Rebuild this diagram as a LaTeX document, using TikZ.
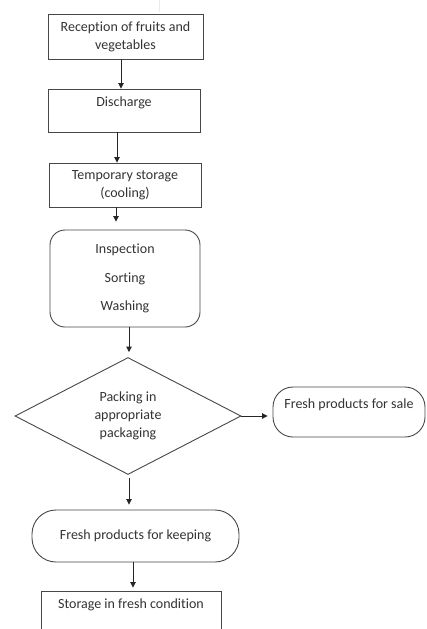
\documentclass[tikz,border=0pt]{standalone}
\usepackage{fontspec}
\setmainfont{Carlito}[RawFeature={-liga;-clig;-dlig;-calt;-rlig}]
\usetikzlibrary{shapes.geometric,arrows.meta}
\begin{document}
\begin{tikzpicture}[x=1pt,y=-1pt,
  box/.style={draw=black!72, line width=0.9pt, text=black!80,
    font=\fontsize{14pt}{18pt}\selectfont, align=center, inner sep=0pt},
  arr/.style={-{Triangle[length=5.5pt,width=5.5pt]}, draw=black!85, line width=0.9pt}]
\useasboundingbox (0,0) rectangle (426,629);
\clip (0,0) rectangle (426,629);
\fill[white] (0,0) rectangle (426,629);
\draw[black!8, line width=0.6pt] (159,0) -- (159,12);
\node[box, minimum width=155pt, minimum height=45pt] (b1) at (125.5,36.5) {Reception of fruits and\\vegetables};
\node[box, minimum width=152pt, minimum height=43pt] (b2) at (124,110.5) {Discharge\\[-6pt]\strut};
\node[box, minimum width=152pt, minimum height=44pt] (b3) at (125,185) {Temporary storage\\(cooling)};
\node[box, rounded corners=15pt, minimum width=150pt, minimum height=97pt] (b4) at (125,278.5) {Inspection\\[10.5pt]Sorting\\[10.5pt]Washing};
\node[box, diamond, minimum width=226pt, minimum height=117pt] (d) at (128,416) {Packing in\\appropriate\\packaging};
\node[box, rounded corners=20pt, minimum width=152pt, minimum height=50pt] (sale) at (349,412) {Fresh products for sale\\[-6pt]\strut};
\node[box, rounded corners=24pt, minimum width=207pt, minimum height=52pt] (keep) at (135.5,536) {Fresh products for keeping};
\node[box, minimum width=180pt, minimum height=46pt] (store) at (131,614) {Storage in fresh condition\\[-2pt]\strut};
\draw[arr] ([xshift=-4.5pt]b1.south) -- ([xshift=-4.5pt]b1.south |- b2.north);
\draw[arr] ([xshift=-7pt]b2.south) -- ([xshift=-7pt]b2.south |- b3.north);
\draw[arr, shorten >=8pt] ([xshift=-9pt]b3.south) -- ([xshift=-9pt]b3.south |- b4.north);
\draw[arr, shorten >=5pt] ([xshift=4pt]b4.south) -- ([xshift=4pt]b4.south |- d.north);
\draw[arr, shorten >=5pt] (d.east) -- (d.east -| sale.west);
\draw[arr, shorten <=3pt, shorten >=5pt] ([xshift=1pt]d.south) -- ([xshift=1pt]d.south |- keep.north);
\draw[arr, shorten >=3pt] ([xshift=-2.5pt]keep.south) -- ([xshift=-2.5pt]keep.south |- store.north);
\end{tikzpicture}
\end{document}
